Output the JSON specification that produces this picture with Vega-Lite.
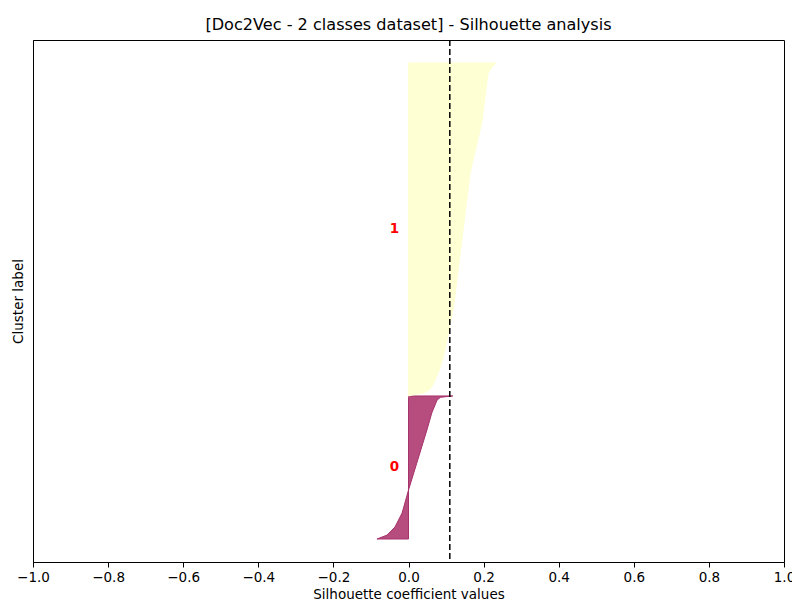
{
  "$schema": "https://vega.github.io/schema/vega-lite/v6.json",
  "width": 751,
  "height": 522,
  "autosize": "none",
  "padding": {"left": 33, "top": 40, "right": 8, "bottom": 41},
  "background": "white",
  "config": {
    "font": "DejaVu Sans",
    "view": {"stroke": "black", "strokeWidth": 1},
    "axis": {"grid": false, "domainColor": "black", "tickColor": "black", "labelColor": "black", "titleColor": "black", "labelFont": "DejaVu Sans", "titleFont": "DejaVu Sans", "labelFontSize": 13.5, "titleFontSize": 13.5, "titleFontWeight": "normal"}
  },
  "title": {"text": "[Doc2Vec - 2 classes dataset] - Silhouette analysis", "font": "DejaVu Sans", "fontSize": 16.1, "fontWeight": "normal", "color": "black", "offset": 6},
  "datasets": {
    "sil": [
      {"cluster": "0", "pos": 10, "value": -0.084},
      {"cluster": "0", "pos": 11.7, "value": -0.057},
      {"cluster": "0", "pos": 15.2, "value": -0.036},
      {"cluster": "0", "pos": 21.3, "value": -0.017},
      {"cluster": "0", "pos": 31.3, "value": 0.0},
      {"cluster": "0", "pos": 43, "value": 0.022},
      {"cluster": "0", "pos": 57.4, "value": 0.049},
      {"cluster": "0", "pos": 64.8, "value": 0.062},
      {"cluster": "0", "pos": 70.4, "value": 0.076},
      {"cluster": "0", "pos": 71.6, "value": 0.085},
      {"cluster": "0", "pos": 72.0, "value": 0.105},
      {"cluster": "0", "pos": 72.2, "value": 0.118},
      {"cluster": "1", "pos": 72.2, "value": 0.0},
      {"cluster": "1", "pos": 72.6, "value": 0.01},
      {"cluster": "1", "pos": 73.5, "value": 0.04},
      {"cluster": "1", "pos": 74.8, "value": 0.055},
      {"cluster": "1", "pos": 77, "value": 0.065},
      {"cluster": "1", "pos": 82.2, "value": 0.079},
      {"cluster": "1", "pos": 89.1, "value": 0.093},
      {"cluster": "1", "pos": 110.9, "value": 0.12},
      {"cluster": "1", "pos": 140, "value": 0.142},
      {"cluster": "1", "pos": 169.1, "value": 0.164},
      {"cluster": "1", "pos": 190.9, "value": 0.195},
      {"cluster": "1", "pos": 212.6, "value": 0.212},
      {"cluster": "1", "pos": 215.2, "value": 0.222},
      {"cluster": "1", "pos": 217, "value": 0.233}
    ],
    "labels": [
      {"cluster": "0", "pos": 41.5, "x": -0.05},
      {"cluster": "1", "pos": 145, "x": -0.05}
    ],
    "avg": [
      {"score": 0.11}
    ]
  },
  "layer": [
    {
      "data": {"name": "sil"},
      "mark": {"type": "area", "orient": "horizontal", "strokeWidth": 1, "fillOpacity": 1},
      "encoding": {
        "y": {"field": "pos", "type": "quantitative", "scale": {"domain": [0, 227], "nice": false, "zero": false}, "axis": {"title": "Cluster label", "ticks": false, "labels": false, "titlePadding": 8, "domain": true}},
        "x": {"field": "value", "type": "quantitative", "scale": {"domain": [-1, 1], "nice": false}, "axis": {"title": "Silhouette coefficient values", "values": [-1, -0.8, -0.6, -0.4, -0.2, 0, 0.2, 0.4, 0.6, 0.8, 1], "format": ".1f", "tickSize": 5, "labelPadding": 3, "titlePadding": 4, "labelFlush": false}},
        "x2": {"datum": 0},
        "detail": {"field": "cluster"},
        "fill": {"field": "cluster", "type": "nominal", "scale": {"domain": ["0", "1"], "range": ["#b74c7e", "#ffffd4"]}, "legend": null},
        "stroke": {"field": "cluster", "type": "nominal", "scale": {"domain": ["0", "1"], "range": ["#a6326b", "#ffffd4"]}, "legend": null}
      }
    },
    {
      "data": {"name": "labels"},
      "mark": {"type": "text", "align": "left", "baseline": "middle", "color": "red", "fontWeight": "bold", "fontSize": 13.5, "font": "DejaVu Sans"},
      "encoding": {
        "y": {"field": "pos", "type": "quantitative"},
        "x": {"field": "x", "type": "quantitative"},
        "text": {"field": "cluster"}
      }
    },
    {
      "data": {"name": "avg"},
      "mark": {"type": "rule", "color": "black", "strokeWidth": 1.5, "strokeDash": [6, 3]},
      "encoding": {"x": {"field": "score", "type": "quantitative"}}
    }
  ]
}
